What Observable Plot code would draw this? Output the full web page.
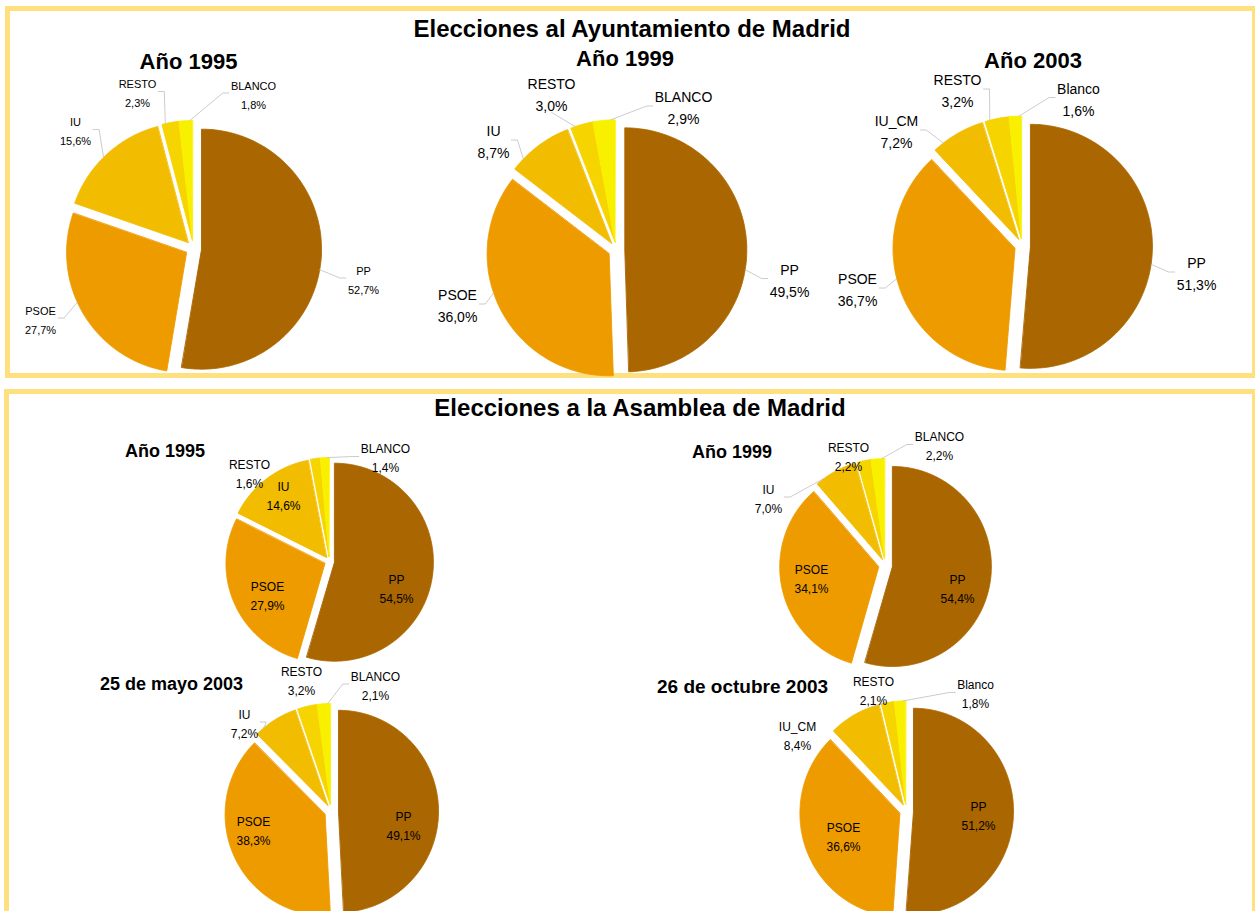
<!DOCTYPE html>
<html><head><meta charset="utf-8">
<script src="https://cdn.jsdelivr.net/npm/d3@7"></script>
<script src="https://cdn.jsdelivr.net/npm/@observablehq/plot@0.6"></script>
<style>
html,body{margin:0;padding:0;background:#fff;}
#page{position:relative;width:1255px;height:911px;overflow:hidden;font-family:"Liberation Sans",Arial,sans-serif;background:#fff;}
.frame{position:absolute;border:5px solid #FFE07F;box-sizing:border-box;}
.t{position:absolute;white-space:nowrap;line-height:1;font-weight:bold;color:#000;}
</style></head><body><div id="page"></div>
<script>
// ---- data ----
const partiesA = ["PP", "PSOE", "IU", "RESTO", "BLANCO"];
const partiesB = ["PP", "PSOE", "IU_CM", "RESTO", "Blanco"];
const ayto1995 = [52.7, 27.7, 15.6, 2.3, 1.8];
const ayto1999 = [49.5, 36.0, 8.7, 3.0, 2.9];
const ayto2003 = [51.3, 36.7, 7.2, 3.2, 1.6];
const asam1995 = [54.5, 27.9, 14.6, 1.6, 1.4];
const asam1999 = [54.4, 34.1, 7.0, 2.2, 2.2];
const asamMayo2003 = [49.1, 38.3, 7.2, 3.2, 2.1];
const asamOct2003 = [51.2, 36.6, 8.4, 2.1, 1.8];
const sliceColors = ["#AA6600", "#EE9B00", "#F2BC00", "#F6D400", "#F9F000"];
// slices sharing an explosion direction (RESTO and BLANCO move together)
const explodeGroup = [0, 1, 2, 3, 3];

// ---- layout ----
const page = document.getElementById("page");
function frame(l, t, w, h) {
  const d = document.createElement("div");
  d.className = "frame";
  Object.assign(d.style, {left: l + "px", top: t + "px", width: w + "px", height: h + "px"});
  page.appendChild(d);
}
function title(text, x, baseline, size, anchor) {
  const d = document.createElement("div");
  d.className = "t";
  d.textContent = text;
  d.style.fontSize = size + "px";
  d.style.top = (baseline - 0.8465 * size) + "px";
  d.style.left = x + "px";
  if (anchor === "middle") d.style.transform = "translateX(-50%)";
  page.appendChild(d);
}
frame(5, 6, 1252, 372);
frame(4, 389, 1253, 600);
title("Elecciones al Ayuntamiento de Madrid", 632, 37, 24, "middle");
title("Elecciones a la Asamblea de Madrid", 640, 416, 24, "middle");

const ctx = document.createElement("canvas").getContext("2d");
function tw(s, size) { ctx.font = size + 'px "Liberation Sans"'; return ctx.measureText(s).width; }
const pct = v => d3.format(".1f")(v).replace(".", ",") + "%";

const charts = [
  {values: ayto1995, names: partiesA, sub: "Año 1995", subX: 188.5, subY: 70, subSize: 22, subAnchor: "middle",
   cx: 193, cy: 248, rx: 120, ry: 120, explode: 0.067, fontSize: 11, gap: 19,
   labelAt: [[170, 29.5], [-153, 69.5], [-118, -119], [-56, -157], [60, -155.5]], leaders: [1, 1, 1, 1, 1]},
  {values: ayto1999, names: partiesA, sub: "Año 1999", subX: 625, subY: 67, subSize: 22, subAnchor: "middle",
   cx: 616, cy: 249, rx: 122, ry: 122, explode: 0.068, fontSize: 14, gap: 22,
   labelAt: [[173, 28.5], [-159, 54], [-123, -110], [-65, -157], [67, -144]], leaders: [1, 1, 1, 1, 1]},
  {values: ayto2003, names: partiesB, sub: "Año 2003", subX: 1033, subY: 69, subSize: 22, subAnchor: "middle",
   cx: 1022, cy: 245, rx: 122, ry: 122, explode: 0.065, fontSize: 14, gap: 22,
   labelAt: [[174, 26], [-165, 42], [-126, -116], [-65, -157], [56, -148.5]], leaders: [1, 1, 1, 1, 1]},
  {values: asam1995, names: partiesA, sub: "Año 1995", subX: 125, subY: 457, subSize: 18,
   cx: 329, cy: 561, rx: 99, ry: 99, explode: 0.05, fontSize: 12, gap: 19,
   labelAt: [[67, 25.5], [-62, 32.5], [-46, -67.5], [-80, -89], [56, -105]], leaders: [0, 0, 0, 0, 1]},
  {values: asam1999, names: partiesA, sub: "Año 1999", subX: 692, subY: 458, subSize: 18,
   cx: 885, cy: 565, rx: 99, ry: 100, explode: 0.07, fontSize: 12, gap: 19,
   labelAt: [[72, 21.5], [-74, 12], [-117, -68.5], [-37, -110.5], [54, -121]], leaders: [0, 0, 1, 0, 1]},
  {values: asamMayo2003, names: partiesA, sub: "25 de mayo 2003", subX: 100, subY: 690, subSize: 18,
   cx: 331, cy: 811, rx: 100, ry: 101, explode: 0.07, fontSize: 12, gap: 19,
   labelAt: [[72, 12.5], [-78, 17.5], [-87, -89.5], [-30, -132.5], [44, -127.5]], leaders: [0, 0, 1, 0, 1]},
  {values: asamOct2003, names: partiesB, sub: "26 de octubre 2003", subX: 657, subY: 693, subSize: 19,
   cx: 906, cy: 810, rx: 100, ry: 103, explode: 0.07, fontSize: 12, gap: 19,
   labelAt: [[72, 3.5], [-63, 24], [-109, -76.5], [-33, -121.5], [69, -118.5]], leaders: [0, 0, 0, 1, 1]}
];

function drawPie(c) {
  const {values, names, rx, ry, explode, fontSize, gap, labelAt, leaders} = c;
  const arcs = d3.pie().sort(null).value(d => d)(values);
  const W = Math.round(rx * 3.9), H = Math.round(ry * 3.7);
  const hx = W / 2 / rx, hy = H / 2 / ry;
  const marks = [];
  const TAU = 2 * Math.PI;
  // explosion direction: bisector of each explode group
  const groupMid = {};
  arcs.forEach((a, i) => {
    const g = explodeGroup[i];
    if (!groupMid[g]) groupMid[g] = [a.startAngle, a.endAngle];
    else groupMid[g][1] = a.endAngle;
  });
  const dirOf = i => { const [s, e] = groupMid[explodeGroup[i]]; return (s + e) / 2; };
  arcs.forEach((a, i) => {
    const mid = dirOf(i);
    const ox = explode * Math.sin(mid), oy = -explode * Math.cos(mid);
    const n = Math.max(2, Math.ceil((a.endAngle - a.startAngle) / (Math.PI / 360)));
    const pts = [{x: ox, y: oy}];
    for (let k = 0; k <= n; k++) {
      const t = a.startAngle + (a.endAngle - a.startAngle) * k / n;
      pts.push({x: ox + Math.sin(t), y: oy - Math.cos(t)});
    }
    marks.push(Plot.line(pts, {x: "x", y: "y", fill: sliceColors[i], stroke: sliceColors[i], strokeWidth: 0.9,
      strokeLinejoin: "round", curve: "linear-closed"}));
  });
  // leader lines
  arcs.forEach((a, i) => {
    if (!leaders[i]) return;
    const [lx, ly] = labelAt[i];
    const hw = Math.max(tw(names[i], fontSize), tw(pct(values[i]), fontSize)) / 2;
    const mid = dirOf(i);
    const ox = explode * rx * Math.sin(mid), oy = -explode * ry * Math.cos(mid);
    let la = Math.atan2(lx, -ly); if (la < 0) la += TAU;
    const m = 0.2 * (a.endAngle - a.startAngle);
    const lo = a.startAngle + m, hi = a.endAngle - m;
    let s;
    if (la >= lo && la <= hi) s = la;
    else {
      const dl = Math.min(Math.abs(la - lo), TAU - Math.abs(la - lo));
      const dh = Math.min(Math.abs(la - hi), TAU - Math.abs(la - hi));
      s = dl < dh ? lo : hi;
    }
    const sx = ox + rx * Math.sin(s), sy = oy - ry * Math.cos(s);
    let pts;
    if (lx - hw > sx) pts = [[sx, sy], [lx - hw - 8, ly], [lx - hw - 2, ly]];
    else if (lx + hw < sx) pts = [[sx, sy], [lx + hw + 8, ly], [lx + hw + 2, ly]];
    else pts = [[sx, sy], [lx, ly + (sy > ly ? 1 : -1) * (gap / 2 + fontSize * 0.6)]];
    marks.push(Plot.line(pts.map(([x, y]) => ({x: x / rx, y: y / ry})),
      {x: "x", y: "y", stroke: "#BFBFBF", strokeWidth: 0.8}));
  });
  const labels = arcs.map((a, i) => ({x: labelAt[i][0] / rx, y: labelAt[i][1] / ry, text: names[i] + "\n" + pct(values[i])}));
  marks.push(Plot.text(labels, {x: "x", y: "y", text: "text", fontSize, lineHeight: gap / fontSize,
    fill: "#000", fontFamily: "Liberation Sans", textAnchor: "middle", lineAnchor: "middle"}));
  const svg = Plot.plot({
    width: W, height: H, margin: 0,
    x: {domain: [-hx, hx], axis: null},
    y: {domain: [-hy, hy], reverse: true, axis: null},
    style: {background: "transparent", overflow: "visible", fontFamily: "Liberation Sans"},
    marks
  });
  svg.style.position = "absolute";
  svg.style.left = (c.cx - W / 2) + "px";
  svg.style.top = (c.cy - H / 2) + "px";
  page.appendChild(svg);
  title(c.sub, c.subX, c.subY, c.subSize, c.subAnchor);
}
charts.forEach(drawPie);
</script></body></html>
